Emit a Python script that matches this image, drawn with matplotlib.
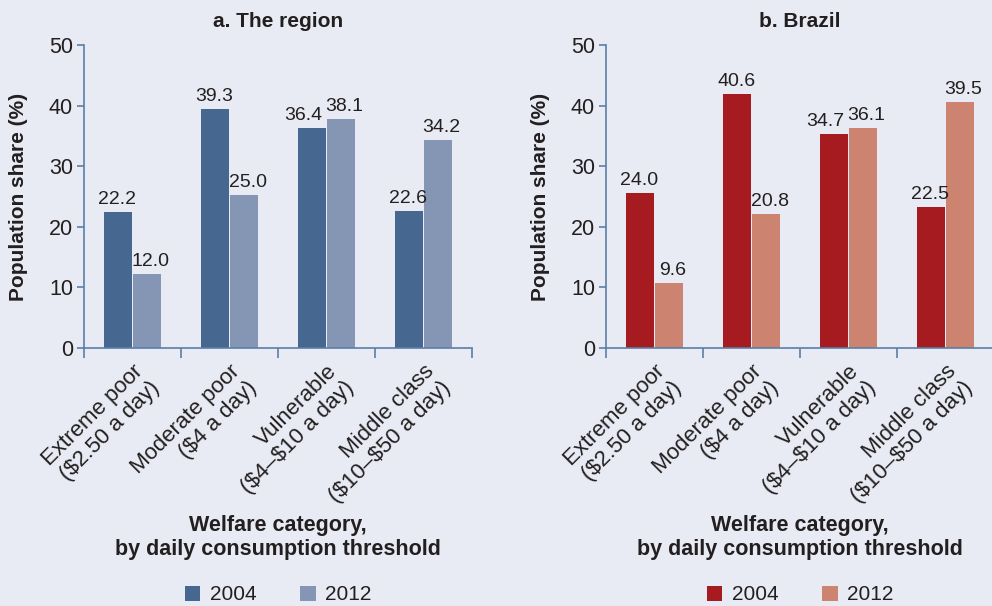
import matplotlib.pyplot as plt
import numpy as np

plt.rcParams['font.family'] = ['Liberation Sans', 'DejaVu Sans']

categories = ['Extreme poor\n(\\$2.50 a day)', 'Moderate poor\n(\\$4 a day)',
              'Vulnerable\n(\\$4–\\$10 a day)', 'Middle class\n(\\$10–\\$50 a day)']
years = ['2004', '2012']

# bar heights as drawn, and the printed value labels
region_2004 = [22.4, 39.4, 36.3, 22.6]
region_2012 = [12.2, 25.2, 37.8, 34.3]
region_2004_lbl = ['22.2', '39.3', '36.4', '22.6']
region_2012_lbl = ['12.0', '25.0', '38.1', '34.2']

brazil_2004 = [25.6, 41.9, 35.3, 23.3]
brazil_2012 = [10.7, 22.1, 36.3, 40.6]
brazil_2004_lbl = ['24.0', '40.6', '34.7', '22.5']
brazil_2012_lbl = ['9.6', '20.8', '36.1', '39.5']

bg = '#e8ebf3'
axis_col = '#5b7ea8'
txt = '#231f20'

fig = plt.figure(figsize=(9.92, 6.06), dpi=100, facecolor=bg)
ax1 = fig.add_axes([0.0847, 0.4257, 0.3911, 0.5])
ax2 = fig.add_axes([0.6109, 0.4257, 0.3911, 0.5])

panels = [
    (ax1, 'a. The region', region_2004, region_2012, region_2004_lbl, region_2012_lbl, '#46678f', '#8496b4'),
    (ax2, 'b. Brazil', brazil_2004, brazil_2012, brazil_2004_lbl, brazil_2012_lbl, '#a51b20', '#cc8370'),
]

x = np.arange(len(categories)) + 0.5
w = 0.287

for ax, title, v1, v2, l1, l2, c1, c2 in panels:
    ax.set_facecolor(bg)
    ax.bar(x - w / 2 - 0.003, v1, w, color=c1, label=years[0], linewidth=0)
    ax.bar(x + w / 2 + 0.003, v2, w, color=c2, label=years[1], linewidth=0)

    for i in range(len(categories)):
        # push labels apart when the two bars are close in height
        close = abs(v1[i] - v2[i]) < 5
        d1 = -7 if close else -1
        d2 = 3 if close else 3
        ax.annotate(l1[i], (x[i] - w / 2, v1[i]), xytext=(d1, 3), textcoords='offset points',
                    ha='center', va='bottom', fontsize=14, color=txt)
        ax.annotate(l2[i], (x[i] + w / 2, v2[i]), xytext=(d2, 3), textcoords='offset points',
                    ha='center', va='bottom', fontsize=14, color=txt)

    ax.set_xlim(0, 4)
    ax.set_ylim(0, 50)
    ax.set_yticks(range(0, 51, 10))
    ax.set_xticks(x)
    ax.set_xticklabels(categories, rotation=45, ha='right', rotation_mode='anchor',
                       fontsize=16, color=txt, linespacing=1.15)
    ax.set_xticks(np.arange(0, 5), minor=True)
    ax.tick_params(axis='x', which='major', length=0, pad=9)
    ax.tick_params(axis='x', which='minor', length=7, width=1.2, color=axis_col, direction='out')
    ax.tick_params(axis='y', length=5, width=1.2, color=axis_col, labelsize=15.5,
                   labelcolor=txt, pad=3)

    for s in ['top', 'right']:
        ax.spines[s].set_visible(False)
    for s in ['left', 'bottom']:
        ax.spines[s].set_color(axis_col)
        ax.spines[s].set_linewidth(1.2)

    ax.set_title(title, fontsize=15, fontweight='bold', color=txt, pad=13)
    ax.set_ylabel('Population share (%)', fontsize=15, fontweight='bold', color=txt)
    ax.yaxis.set_label_coords(-0.145, 0.5)
    ax.text(0.5, -0.625, 'Welfare category,\nby daily consumption threshold',
            transform=ax.transAxes, ha='center', va='center', fontsize=15.5,
            fontweight='bold', color=txt, linespacing=1.15)
    ax.legend(loc='center', bbox_to_anchor=(0.5, -0.815), ncol=2, frameon=False,
              fontsize=15, handlelength=0.75, handleheight=0.75, handletextpad=0.45,
              columnspacing=2.1, labelcolor=txt)

fig.savefig('out.png', dpi=100, facecolor=bg)
